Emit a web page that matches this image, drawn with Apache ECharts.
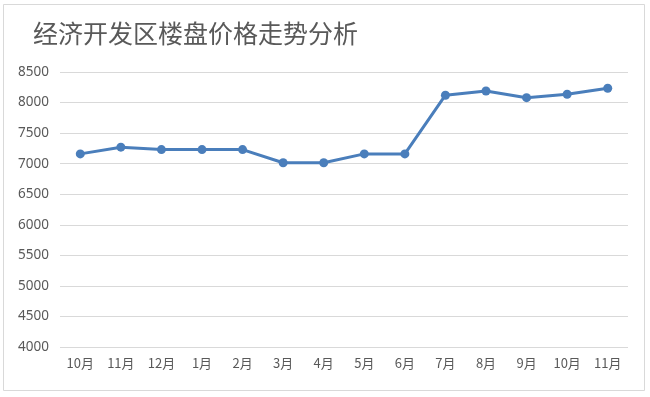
<!DOCTYPE html>
<html>
<head>
<meta charset="utf-8">
<script src="https://cdn.jsdelivr.net/npm/echarts@6/dist/echarts.min.js"></script>
<style>
  body { margin: 0; background: #fff; }
  #main { width: 650px; height: 397px; }
</style>
</head>
<body>
<div id="main"></div>
<script>
var months = ['10月', '11月', '12月', '1月', '2月', '3月', '4月', '5月', '6月', '7月', '8月', '9月', '10月', '11月'];
var prices = [7160, 7270, 7230, 7230, 7230, 7015, 7015, 7160, 7160, 8120, 8190, 8080, 8135, 8235];
var yTicks = { min: 4000, max: 8500, step: 500 };

var myChart = echarts.init(document.getElementById('main'));
var option = {
  backgroundColor: '#fff',
  graphic: [{
    type: 'rect',
    shape: { x: 3.5, y: 4.5, width: 641, height: 386 },
    style: { fill: 'none', stroke: '#d9d9d9', lineWidth: 1 },
    silent: true
  }],
  title: {
    text: '经济开发区楼盘价格走势分析',
    left: 28,
    top: 16,
    textStyle: {
      fontFamily: 'Noto Sans CJK SC',
      fontSize: 25,
      fontWeight: 'normal',
      color: '#595959'
    }
  },
  grid: { left: 60, right: 22, top: 72, bottom: 50 },
  xAxis: {
    type: 'category',
    data: months,
    boundaryGap: true,
    axisLine: { show: false },
    axisTick: { show: false },
    axisLabel: {
      color: '#595959',
      fontSize: 13,
      margin: 10,
      interval: 0,
      fontFamily: 'Noto Sans CJK SC'
    }
  },
  yAxis: {
    type: 'value',
    min: yTicks.min,
    max: yTicks.max,
    interval: yTicks.step,
    axisLine: { show: false },
    axisTick: { show: false },
    axisLabel: {
      color: '#595959',
      fontSize: 13.5,
      margin: 11,
      fontFamily: 'Noto Sans',
      formatter: function (v) { return String(v); }
    },
    splitLine: { lineStyle: { color: '#d9d9d9', width: 1 } }
  },
  series: [{
    type: 'line',
    data: prices,
    symbol: 'circle',
    symbolSize: 9,
    lineStyle: { color: '#4a7ebb', width: 3 },
    itemStyle: { color: '#4a7ebb' }
  }]
};
myChart.setOption(option);
</script>
</body>
</html>
